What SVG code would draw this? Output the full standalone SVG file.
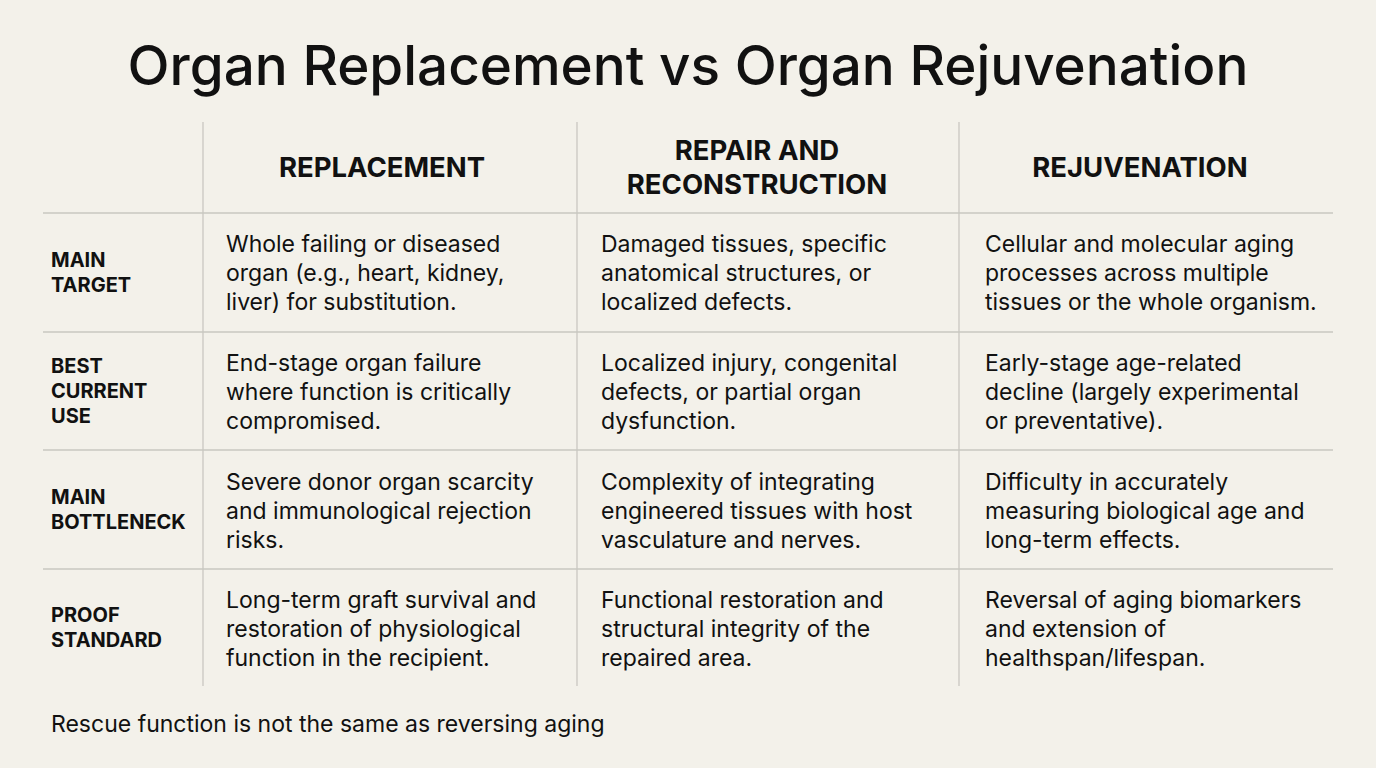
<svg xmlns="http://www.w3.org/2000/svg" width="1376" height="768" viewBox="0 0 1376 768">
<style>
text{font-family:Inter,"Liberation Sans",sans-serif;fill:#111}
.t{font-size:54.8px;font-weight:500}
.h{font-size:27.5px;font-weight:700;text-anchor:middle}
.r{font-size:20px;font-weight:700}
.c{font-size:23px}
line{stroke:#c9c7c1;stroke-width:1.3}
</style>
<rect width="1376" height="768" fill="#f3f1ea"/>
<text class="t" x="688" y="85" text-anchor="middle">Organ Replacement vs Organ Rejuvenation</text>
<g id="grid">
<line x1="203" y1="122" x2="203" y2="686"/><line x1="577" y1="122" x2="577" y2="686"/><line x1="959" y1="122" x2="959" y2="686"/>
<line x1="43" y1="213" x2="1333" y2="213"/><line x1="43" y1="332" x2="1333" y2="332"/><line x1="43" y1="450" x2="1333" y2="450"/><line x1="43" y1="569" x2="1333" y2="569"/>
</g>
<g id="headers">
<text class="h" x="382" y="177">REPLACEMENT</text>
<text class="h" x="757" y="160">REPAIR AND</text><text class="h" x="757" y="194">RECONSTRUCTION</text>
<text class="h" x="1140" y="177">REJUVENATION</text>
</g>
<g id="labels">
<text class="r" x="51" y="267">MAIN</text><text class="r" x="51" y="292">TARGET</text>
<text class="r" x="51" y="373">BEST</text><text class="r" x="51" y="398">CURRENT</text><text class="r" x="51" y="423">USE</text>
<text class="r" x="51" y="504">MAIN</text><text class="r" x="51" y="529">BOTTLENECK</text>
<text class="r" x="51" y="622">PROOF</text><text class="r" x="51" y="647">STANDARD</text>
</g>
<g id="cells" class="c">
<text class="c" x="226" y="252">Whole failing or diseased</text><text class="c" x="226" y="281">organ (e.g., heart, kidney,</text><text class="c" x="226" y="310">liver) for substitution.</text>
<text class="c" x="601" y="252">Damaged tissues, specific</text><text class="c" x="601" y="281">anatomical structures, or</text><text class="c" x="601" y="310">localized defects.</text>
<text class="c" x="985" y="252">Cellular and molecular aging</text><text class="c" x="985" y="281">processes across multiple</text><text class="c" x="985" y="310">tissues or the whole organism.</text>
<text class="c" x="226" y="371">End-stage organ failure</text><text class="c" x="226" y="400">where function is critically</text><text class="c" x="226" y="429">compromised.</text>
<text class="c" x="601" y="371">Localized injury, congenital</text><text class="c" x="601" y="400">defects, or partial organ</text><text class="c" x="601" y="429">dysfunction.</text>
<text class="c" x="985" y="371">Early-stage age-related</text><text class="c" x="985" y="400">decline (largely experimental</text><text class="c" x="985" y="429">or preventative).</text>
<text class="c" x="226" y="490">Severe donor organ scarcity</text><text class="c" x="226" y="519">and immunological rejection</text><text class="c" x="226" y="548">risks.</text>
<text class="c" x="601" y="490">Complexity of integrating</text><text class="c" x="601" y="519">engineered tissues with host</text><text class="c" x="601" y="548">vasculature and nerves.</text>
<text class="c" x="985" y="490">Difficulty in accurately</text><text class="c" x="985" y="519">measuring biological age and</text><text class="c" x="985" y="548">long-term effects.</text>
<text class="c" x="226" y="608">Long-term graft survival and</text><text class="c" x="226" y="637">restoration of physiological</text><text class="c" x="226" y="666">function in the recipient.</text>
<text class="c" x="601" y="608">Functional restoration and</text><text class="c" x="601" y="637">structural integrity of the</text><text class="c" x="601" y="666">repaired area.</text>
<text class="c" x="985" y="608">Reversal of aging biomarkers</text><text class="c" x="985" y="637">and extension of</text><text class="c" x="985" y="666">healthspan/lifespan.</text>
</g>
<text class="c" x="51" y="732">Rescue function is not the same as reversing aging</text>
</svg>
